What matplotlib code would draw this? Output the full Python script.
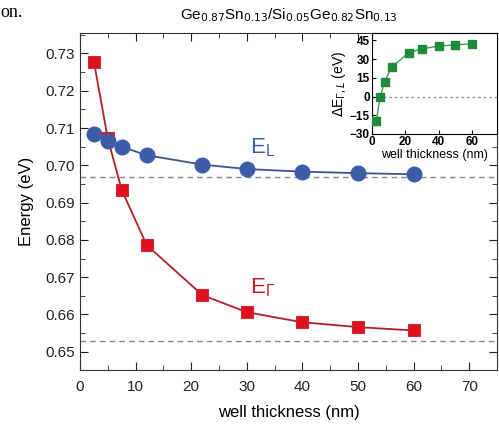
import matplotlib.pyplot as plt
from matplotlib.ticker import MultipleLocator

plt.rcParams['font.family'] = ['Liberation Sans', 'DejaVu Sans']

# Data
thickness = [2.5, 5, 7.5, 12, 22, 30, 40, 50, 60]
e_gamma = [0.7278, 0.7072, 0.6934, 0.6786, 0.6652, 0.6606, 0.6579, 0.6566, 0.6557]
e_l = [0.7084, 0.7066, 0.7050, 0.7027, 0.7002, 0.6990, 0.6983, 0.6979, 0.6976]
bulk_l = 0.697
bulk_gamma = 0.653
delta_e = [-19.5, 0, 11.8, 24, 35, 38.3, 40.5, 41.5, 42.3]

blue = "#3d5ca8"
blue_line = "#3f5290"
red = "#e0101e"
red_line = "#b0202c"
green = "#1f8a3a"

fig = plt.figure(figsize=(4.99, 4.24), dpi=100)
ax = fig.add_axes([0.1603, 0.1274, 0.8357, 0.7948])

ax.axhline(bulk_l, color="#888888", ls=(0, (4, 3)), lw=1.0, zorder=1)
ax.axhline(bulk_gamma, color="#888888", ls=(0, (4, 3)), lw=1.0, zorder=1)

ax.plot(thickness, e_gamma, color=red_line, lw=1.3, marker="s", ms=9,
        mfc=red, mec="#c0303a", mew=0.8, zorder=3)
ax.plot(thickness, e_l, color=blue_line, lw=1.3, marker="o", ms=10.5,
        mfc=blue, mec=blue, zorder=4)

ax.text(32.8, 0.7046, r"E$_\mathregular{L}$", color=blue, fontsize=16, ha="center", va="center")
ax.text(32.8, 0.6672, r"E$_\mathregular{\Gamma}$", color="#c01828", fontsize=16, ha="center", va="center")

ax.set_xlim(0, 75)
ax.set_ylim(0.6451, 0.7355)
ax.xaxis.set_major_locator(MultipleLocator(10))
ax.xaxis.set_minor_locator(MultipleLocator(5))
ax.yaxis.set_major_locator(MultipleLocator(0.01))
ax.yaxis.set_minor_locator(MultipleLocator(0.005))
ax.yaxis.set_major_formatter(plt.FormatStrFormatter("%.2f"))
ax.tick_params(which="both", direction="in", top=True, right=True, labelsize=11, colors="#222222")
ax.tick_params(which="major", length=6)
ax.tick_params(which="minor", length=3.5)
ax.tick_params(axis="x", pad=7)
for s in ax.spines.values():
    s.set_color("#333333")
ax.set_xlabel("well thickness (nm)", fontsize=12, labelpad=8)
ax.set_ylabel("Energy (eV)", fontsize=12, labelpad=8)
ax.set_title(r"Ge$_{0.87}$Sn$_{0.13}$/Si$_{0.05}$Ge$_{0.82}$Sn$_{0.13}$", fontsize=11, pad=10)

fig.text(0.0, 0.99, "on.", fontsize=13, family="Liberation Serif", va="top", ha="left")

# Inset
ins = fig.add_axes([0.7455, 0.684, 0.2505, 0.2382])
ins.axhline(0, color="#999999", ls=(0, (2, 2)), lw=1.0, zorder=1)
ins.plot(thickness, delta_e, color="#4a9a5a", lw=1.0, marker="s", ms=5.5,
         mfc=green, mec=green, zorder=3)
ins.set_xlim(0, 75)
ins.set_ylim(-30, 51)
ins.xaxis.set_major_locator(MultipleLocator(20))
ins.yaxis.set_major_locator(MultipleLocator(15))
ins.tick_params(direction="in", length=3, labelsize=8.5, pad=1.5)
for lab in ins.get_xticklabels() + ins.get_yticklabels():
    lab.set_fontweight("bold")
ins.set_xlabel("well thickness (nm)", fontsize=9, labelpad=1)
ins.set_ylabel(r"$\Delta$E$_{\Gamma,L}$ (eV)", fontsize=10, labelpad=1)

fig.savefig("out.png", dpi=100)
